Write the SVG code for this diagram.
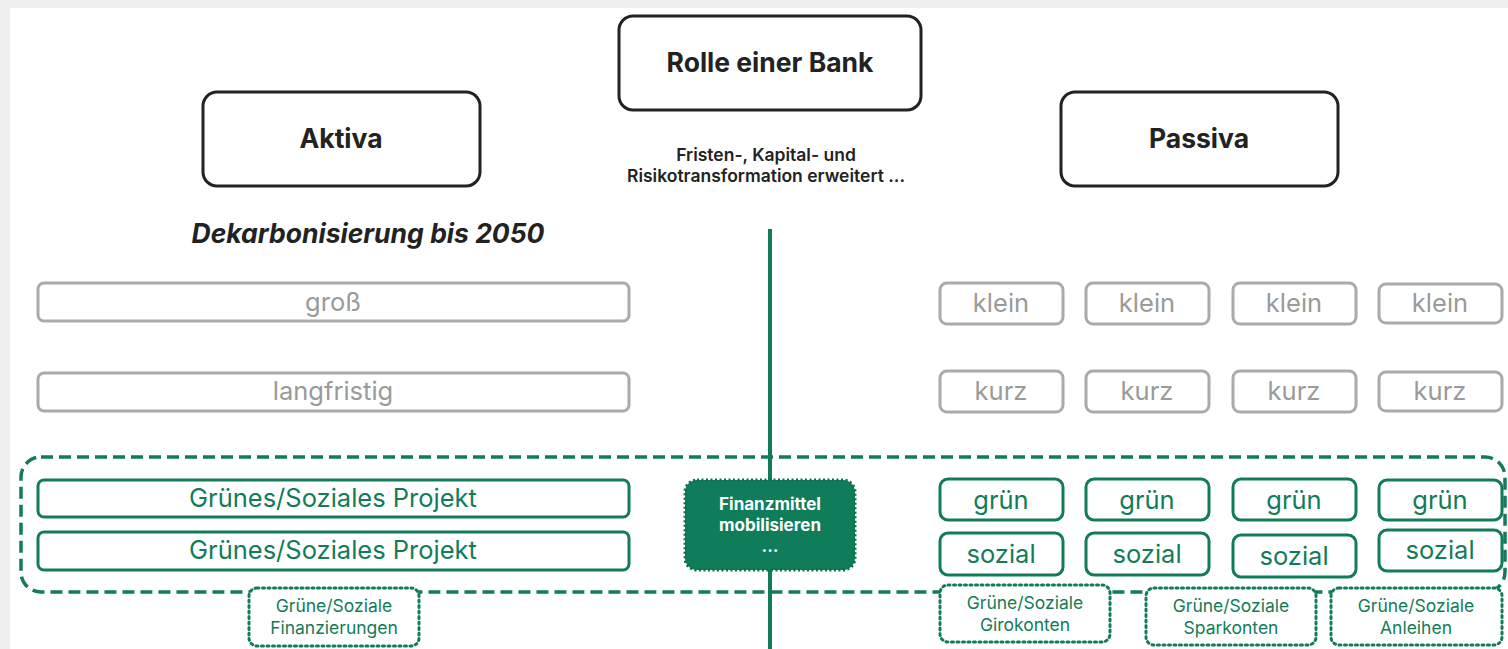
<svg xmlns="http://www.w3.org/2000/svg" width="1508" height="649" viewBox="0 0 1508 649">
<style>
.bg{fill:#efefef}
.main{fill:#fff;stroke:#222;stroke-width:3}
.t-main{font-family:Inter,"Liberation Sans",sans-serif;font-weight:700;font-size:26.5px;fill:#222;text-anchor:middle}
.t-sub{font-family:Inter,"Liberation Sans",sans-serif;font-weight:600;font-size:17.5px;fill:#222;text-anchor:middle}
.t-it{font-family:Inter,"Liberation Sans",sans-serif;font-weight:700;font-style:italic;font-size:26.5px;fill:#222;text-anchor:middle}
.gray{fill:#fff;stroke:#aaaaaa;stroke-width:3}
.t-gray{font-family:Inter,"Liberation Sans",sans-serif;font-size:25.5px;fill:#9a9a9a;text-anchor:middle}
.green{fill:#fff;stroke:#127c59;stroke-width:3}
.t-green{font-family:Inter,"Liberation Sans",sans-serif;font-size:25.5px;fill:#127c59;text-anchor:middle}
.dotbox{fill:#fff;stroke:#127c59;stroke-width:3;stroke-dasharray:2 3.5;stroke-linecap:round}
.t-lab{font-family:Inter,"Liberation Sans",sans-serif;font-size:17.5px;fill:#127c59;text-anchor:middle}
.t-white{font-family:Inter,"Liberation Sans",sans-serif;font-weight:700;font-size:17px;fill:#fff;text-anchor:middle}
</style>
<rect class="bg" x="0" y="0" width="1508" height="649"/>
<rect x="10" y="8" width="1498" height="641" fill="#fff"/>

<g id="container">
<rect x="21" y="457" width="1484" height="135" rx="20" fill="none" stroke="#127c59" stroke-width="3.5" stroke-dasharray="12 6"/>
</g>

<g id="connectors">
<line x1="770" y1="229" x2="770" y2="649" stroke="#127c59" stroke-width="4"/>
</g>

<g id="rolle">
<rect class="main" x="619" y="16" width="302" height="94" rx="14"/>
<text class="t-main" x="770" y="72">Rolle einer Bank</text>
</g>
<g id="aktiva">
<rect class="main" x="203" y="92" width="277" height="94" rx="14"/>
<text class="t-main" x="341" y="148">Aktiva</text>
</g>
<g id="passiva">
<rect class="main" x="1061" y="92" width="277" height="94" rx="14"/>
<text class="t-main" x="1199" y="148">Passiva</text>
</g>
<g id="transformation">
<text class="t-sub" x="766" y="161">Fristen-, Kapital- und</text>
<text class="t-sub" x="766" y="182">Risikotransformation erweitert ...</text>
</g>
<g id="dekarbonisierung">
<text class="t-it" x="368" y="243">Dekarbonisierung bis 2050</text>
</g>

<g id="gross">
<rect class="gray" x="38" y="283" width="591" height="38" rx="6"/>
<text class="t-gray" x="333" y="311">groß</text>
</g>
<g id="langfristig">
<rect class="gray" x="38" y="373" width="591" height="38" rx="6"/>
<text class="t-gray" x="333" y="400">langfristig</text>
</g>

<g id="klein1"><rect class="gray" x="940" y="283" width="123" height="41" rx="7"/><text class="t-gray" x="1001" y="312">klein</text></g>
<g id="klein2"><rect class="gray" x="1086" y="283" width="123" height="41" rx="7"/><text class="t-gray" x="1147" y="312">klein</text></g>
<g id="klein3"><rect class="gray" x="1233" y="283" width="123" height="41" rx="7"/><text class="t-gray" x="1294" y="312">klein</text></g>
<g id="klein4"><rect class="gray" x="1379" y="284" width="123" height="39" rx="7"/><text class="t-gray" x="1440" y="312">klein</text></g>

<g id="kurz1"><rect class="gray" x="940" y="371" width="123" height="41" rx="7"/><text class="t-gray" x="1001" y="400">kurz</text></g>
<g id="kurz2"><rect class="gray" x="1086" y="371" width="123" height="41" rx="7"/><text class="t-gray" x="1147" y="400">kurz</text></g>
<g id="kurz3"><rect class="gray" x="1233" y="371" width="123" height="41" rx="7"/><text class="t-gray" x="1294" y="400">kurz</text></g>
<g id="kurz4"><rect class="gray" x="1379" y="372" width="123" height="39" rx="7"/><text class="t-gray" x="1440" y="400">kurz</text></g>

<g id="projekt1">
<rect class="green" x="38" y="480" width="591" height="37" rx="6"/>
<text class="t-green" x="333" y="507">Grünes/Soziales Projekt</text>
</g>
<g id="projekt2">
<rect class="green" x="38" y="532" width="591" height="38" rx="6"/>
<text class="t-green" x="333" y="559">Grünes/Soziales Projekt</text>
</g>

<g id="finanzmittel">
<rect x="685" y="480" width="170" height="90" rx="12" fill="#0f7d5a" stroke="#0d6e4e" stroke-width="3" stroke-dasharray="2 2.5"/>
<text class="t-white" x="770" y="510">Finanzmittel</text>
<text class="t-white" x="770" y="531">mobilisieren</text>
<text class="t-white" x="770" y="552">...</text>
</g>

<g id="gruen1"><rect class="green" x="940" y="479" width="123" height="41" rx="8"/><text class="t-green" x="1001" y="509">grün</text></g>
<g id="gruen2"><rect class="green" x="1086" y="479" width="123" height="41" rx="8"/><text class="t-green" x="1147" y="509">grün</text></g>
<g id="gruen3"><rect class="green" x="1233" y="479" width="123" height="41" rx="8"/><text class="t-green" x="1294" y="509">grün</text></g>
<g id="gruen4"><rect class="green" x="1379" y="480" width="123" height="40" rx="8"/><text class="t-green" x="1440" y="509">grün</text></g>

<g id="sozial1"><rect class="green" x="940" y="533" width="123" height="42" rx="8"/><text class="t-green" x="1001" y="563">sozial</text></g>
<g id="sozial2"><rect class="green" x="1086" y="533" width="123" height="42" rx="8"/><text class="t-green" x="1147" y="563">sozial</text></g>
<g id="sozial3"><rect class="green" x="1233" y="535" width="123" height="42" rx="8"/><text class="t-green" x="1294" y="565">sozial</text></g>
<g id="sozial4"><rect class="green" x="1379" y="530" width="123" height="41" rx="8"/><text class="t-green" x="1440" y="559">sozial</text></g>

<g id="finanzierungen">
<rect class="dotbox" x="249" y="588" width="170" height="58" rx="8"/>
<text class="t-lab" x="334" y="612">Grüne/Soziale</text>
<text class="t-lab" x="334" y="634">Finanzierungen</text>
</g>
<g id="girokonten">
<rect class="dotbox" x="940" y="585" width="170" height="57" rx="8"/>
<text class="t-lab" x="1025" y="609">Grüne/Soziale</text>
<text class="t-lab" x="1025" y="631">Girokonten</text>
</g>
<g id="sparkonten">
<rect class="dotbox" x="1146" y="588" width="170" height="57" rx="8"/>
<text class="t-lab" x="1231" y="612">Grüne/Soziale</text>
<text class="t-lab" x="1231" y="634">Sparkonten</text>
</g>
<g id="anleihen">
<rect class="dotbox" x="1331" y="588" width="171" height="57" rx="8"/>
<text class="t-lab" x="1416" y="612">Grüne/Soziale</text>
<text class="t-lab" x="1416" y="634">Anleihen</text>
</g>
</svg>
